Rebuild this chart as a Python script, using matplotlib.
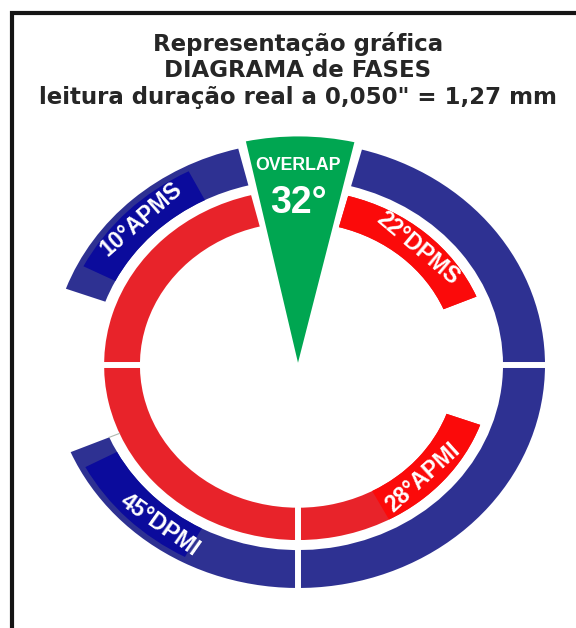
import numpy as np
import matplotlib
matplotlib.use("Agg")
import matplotlib.pyplot as plt
from matplotlib.patches import Wedge, Rectangle

# ---------------- data ----------------
title_lines = ["Representação gráfica", "DIAGRAMA de FASES",
               "leitura duração real a 0,050\" = 1,27 mm"]

# ring arcs (degrees, counter-clockwise from 3 o'clock)
exhaust_arcs = [(104, 160), (203, 360), (0, 75)]      # blue outer ring
intake_arcs = [(104, 340), (23, 75)]                   # red inner ring
overlap_arc = (77, 102)                                # green wedge
overlap_value = 32

label_texts = ["10°APMS", "22°DPMS", "28°APMI", "45°DPMI"]
label_angles = [134, 47, -45, 232]
label_ring = ["outer", "inner", "inner", "outer"]
highlight_arcs = [(117, 153), (23, 75), (-62, -20), (208, 242)]
separator_angles = [0, 180, 270]

# ---------------- style ----------------
BLUE = "#2e3192"
BLUE_DARK = "#0b0b9c"
RED = "#e8232a"
RED_BRIGHT = "#fb0a0a"
GREEN = "#00a651"
R_OUT, W_OUT = 1.0, 0.17
R_IN, W_IN = 0.785, 0.145
LABEL_FONT = ["Liberation Sans Narrow", "Liberation Sans"]

W, H = 576, 628
fig = plt.figure(figsize=(W / 100, H / 100), dpi=100)
fig.patch.set_facecolor("white")

# frame (left and top borders)
fig.add_artist(Rectangle((12 / W, -0.1), 1.2, 1.1 - 13 / H, transform=fig.transFigure,
                         fill=False, edgecolor="#151515", linewidth=3.0))

# title
baselines = [51, 77, 104]
for txt, yb in zip(title_lines, baselines):
    fig.text(298 / W, 1 - yb / H, txt, ha="center", va="baseline",
             fontsize=16.5, fontweight="bold", color="#262626",
             family=["DejaVu Sans"])

# diagram axes: center (298,365) px, x-radius 247 px, y-radius 223 px
cx, cy, rx, ry = 298, 365, 247, 223
ax = fig.add_axes([(cx - rx) / W, (H - cy - ry) / H, 2 * rx / W, 2 * ry / H])
ax.set_xlim(-1, 1)
ax.set_ylim(-1, 1)
ax.axis("off")

for a1, a2 in exhaust_arcs:
    ax.add_patch(Wedge((0, 0), R_OUT, a1, a2, width=W_OUT, facecolor=BLUE,
                       edgecolor="none", clip_on=False))
for a1, a2 in intake_arcs:
    ax.add_patch(Wedge((0, 0), R_IN, a1, a2, width=W_IN, facecolor=RED,
                 edgecolor="none", clip_on=False))

for (a1, a2), ring in zip(highlight_arcs, label_ring):
    if ring == "outer":
        ax.add_patch(Wedge((0, 0), R_OUT - 0.025, a1, a2, width=W_OUT - 0.025,
                           facecolor=BLUE_DARK, edgecolor="none"))
    else:
        ax.add_patch(Wedge((0, 0), R_IN, a1, a2, width=W_IN,
                           facecolor=RED_BRIGHT, edgecolor="none"))

# separators
for a in separator_angles:
    t = np.deg2rad(a)
    ax.plot([0.6 * np.cos(t), 1.03 * np.cos(t)], [0.6 * np.sin(t), 1.03 * np.sin(t)],
            color="white", lw=4.3, solid_capstyle="butt", clip_on=False)

# thin connector at 45°DPMI start
t = np.deg2rad(exhaust_arcs[1][0])
ax.plot([(R_IN) * np.cos(t), (R_OUT - W_OUT) * np.cos(t)],
        [(R_IN) * np.sin(t), (R_OUT - W_OUT) * np.sin(t)], color="#b0b8b0", lw=0.8)

# overlap wedge
ax.add_patch(Wedge((0, 0.01), 1.015, overlap_arc[0], overlap_arc[1], facecolor=GREEN,
                   edgecolor="none", clip_on=False))
ax.text(0, (365 - 166) / ry, "OVERLAP", ha="center", va="center", color="white",
        fontsize=12.8, fontweight="bold", family=LABEL_FONT)
ax.text(0, (365 - 203) / ry, f"{overlap_value}°", ha="center", va="center", color="white",
        fontsize=27, fontweight="bold", family=LABEL_FONT)

# ring labels, rotated along tangent on screen
for txt, ang, ring in zip(label_texts, label_angles, label_ring):
    r = R_OUT - W_OUT / 2 - 0.003 if ring == "outer" else R_IN - W_IN / 2
    t = np.deg2rad(ang)
    x, y = r * np.cos(t), r * np.sin(t)
    tx, ty = -np.sin(t) * rx, np.cos(t) * ry
    rot = np.degrees(np.arctan2(ty, tx))
    if rot > 90:
        rot -= 180
    if rot < -90:
        rot += 180
    ax.text(x, y, txt, ha="center", va="center", rotation=rot, rotation_mode="anchor",
            color="white", fontsize=16.5, fontweight="bold", family=LABEL_FONT)

fig.savefig("out.png", dpi=100, facecolor="white")
